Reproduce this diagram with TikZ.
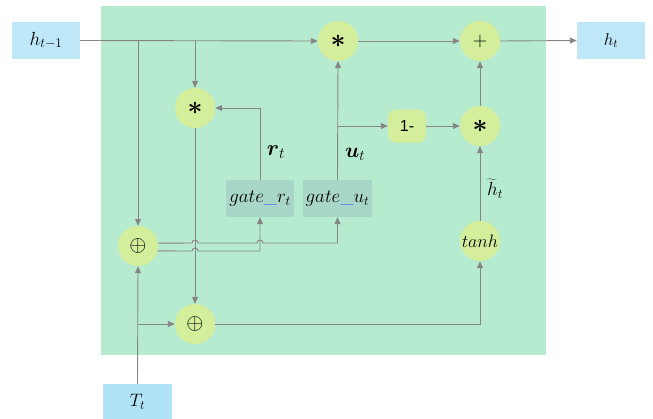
\RequirePackage{fix-cm}
\documentclass[tikz,border=0pt]{standalone}
\usepackage{fontspec}
\newfontfamily\arialf{Liberation Sans}
\usetikzlibrary{arrows.meta}
\definecolor{bggreen}{HTML}{B7EBD0}
\definecolor{opgreen}{HTML}{D5EE9C}
\definecolor{gatecol}{HTML}{A8D6C8}
\definecolor{ioblue}{HTML}{BEE8F8}
\definecolor{tblue}{HTML}{B0E2F8}
\definecolor{linegray}{HTML}{858585}
\tikzset{
  flow/.style={draw=linegray, line width=0.9pt, -{Triangle[length=7pt,width=6pt]}},
  op/.style={circle, fill=opgreen, minimum size=40pt, inner sep=0pt},
  io/.style={rectangle, fill=ioblue, minimum width=68pt, minimum height=37pt, inner sep=0pt},
  gatebox/.style={rectangle, fill=gatecol, minimum width=68pt, minimum height=37pt, inner sep=0pt},
  lbl/.style={inner sep=0pt, font=\fontsize{19}{22}\selectfont},
  bigast/.style={font=\fontsize{26}{26}\selectfont\boldmath},
}
\begin{document}
\begin{tikzpicture}[x=1pt,y=1pt]
\useasboundingbox (0,0) rectangle (653,-418);
\fill[bggreen] (101,-6) rectangle (546,-355);

\node[io,font=\fontsize{19}{22}\selectfont] (htm1) at (46,-40.5) {$h_{t-1}$};
\node[io,font=\fontsize{17}{22}\selectfont] (ht) at (611,-40.5) {$h_t$};
\node[io,fill=tblue,minimum width=69pt,minimum height=36pt,font=\fontsize{18}{22}\selectfont] (Tt) at (137.5,-402) {$T_t$};

\node[op,bigast] (mulTop) at (338,-41) {$\ast$};
\node[op,font=\fontsize{20}{22}\selectfont] (plus) at (480,-41) {$+$};
\node[op,bigast] (mulR) at (480,-126) {$\ast$};
\node[op,bigast] (mulL) at (195,-108) {$\ast$};
\node[rectangle, rounded corners=8pt, fill=opgreen, minimum width=38pt, minimum height=33pt, inner sep=0pt, font=\arialf\fontsize{16}{18}\selectfont] (oneminus) at (407,-126) {1-};
\node[gatebox,font=\fontsize{19}{22}\selectfont] (gr) at (260,-198.5) {$gate$\textcolor{blue}{\_}$r_t$};
\node[gatebox,minimum width=69pt,font=\fontsize{19}{22}\selectfont] (gu) at (337.5,-198.5) {$gate$\textcolor{blue}{\_}$u_t$};
\node[op,font=\fontsize{22}{22}\selectfont] (oplusL) at (138,-246) {$\oplus$};
\node[op,font=\fontsize{22}{22}\selectfont] (oplusB) at (195,-324) {$\oplus$};
\node[op,font=\fontsize{18}{22}\selectfont] (tanh) at (480,-241) {$tanh$};

\node[lbl,font=\fontsize{22}{22}\selectfont] (rt) at (276,-152) {$\mbox{\boldmath$r$}_t$};
\node[lbl,font=\fontsize{21}{22}\selectfont] (ut) at (355,-154) {$\mbox{\boldmath$u$}_t$};
\node[lbl,font=\fontsize{19}{22}\selectfont] (htil) at (495,-189) {$\widetilde{h}_t$};

\coordinate (j1) at (138,-41);
\coordinate (j2) at (195,-41);
\coordinate (j3) at (337.5,-126);
\coordinate (j4) at (138,-324);

\draw[flow] (htm1.east) -- (mulTop.west);
\draw[flow] (j1) -- (oplusL.north);
\draw[flow] (j2) -- (mulL.north);
\draw[flow] (mulL.south) -- (oplusB.north);
\draw[flow] (gr.north) |- (mulL.east);
\draw[flow] (gu.north) -- (mulTop.south);
\draw[flow] (j3) -- (oneminus.west);
\draw[flow] (oneminus.east) -- (mulR.west);
\draw[flow] (mulR.north) -- (plus.south);
\draw[flow] (mulTop.east) -- (plus.west);
\draw[flow] (plus.east) -- (ht.west);
\draw[flow] (tanh.north) -- (mulR.south);
\draw[flow] (oplusB.east) -| (tanh.south);
\draw[flow] (Tt.north) -- (oplusL.south);
\draw[flow] (j4) -- (oplusB.west);
\draw[flow] (oplusL.8.6) -- (192,-243) arc(180:0:3) -- (257,-243) arc(180:0:3) -- (337.5,-243) -- (gu.south);
\draw[flow] (oplusL.-14.5) -- (192,-251) arc(180:0:3) -- (260,-251) -- (gr.south);
\end{tikzpicture}
\end{document}
